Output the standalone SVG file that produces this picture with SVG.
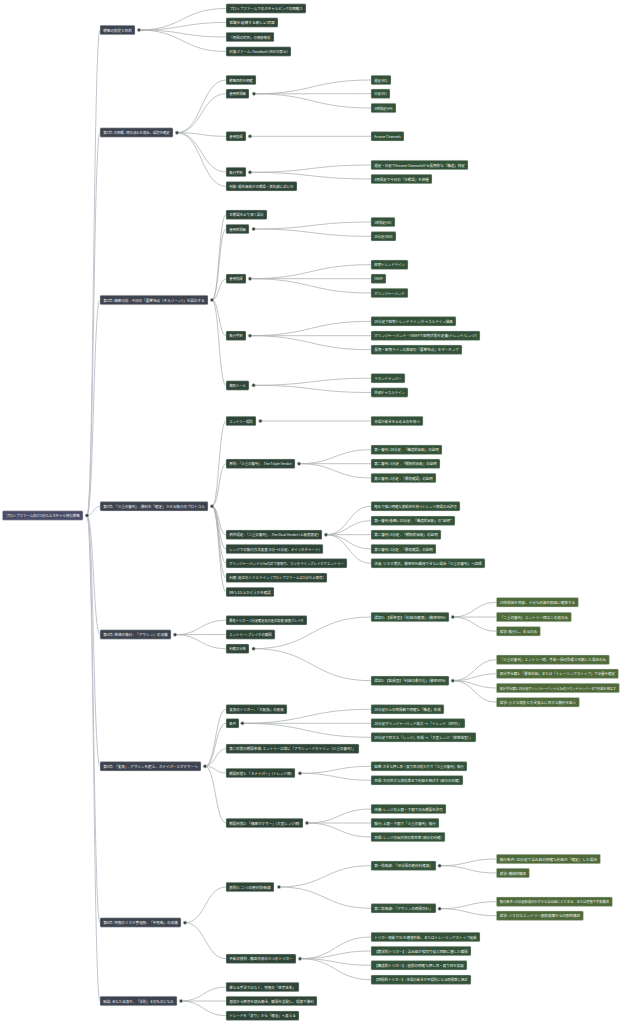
<svg xmlns="http://www.w3.org/2000/svg" width="626" height="1024" viewBox="0 0 626 1024">
<style>
rect{stroke:#d3dad4;stroke-width:0.45;}
.n0{fill:#4a4c68}.n1{fill:#3e4350}.n2{fill:#2e4538}.n3{fill:#335239}.n4{fill:#4f6a3a}
text{font-family:"Noto Sans CJK JP","Noto Sans",sans-serif;font-size:3.5px;fill:#eef2ee;dominant-baseline:central}
.sm{font-size:3.1px}
.c{fill:#3c4441;stroke:#d0d5d2;stroke-width:0.6}
.lk path{fill:none;stroke:#a9b0ad;stroke-width:0.75}
.lr path{fill:none;stroke:#bdbdcc;stroke-width:0.9}
</style>
<rect x="0" y="0" width="626" height="1024" style="fill:#ffffff;stroke:none"/>
<g id="connectors">
<g class="lr">
<path d="M87 515.5C93.5 515.5 93.5 30 100 30"/>
<path d="M87 515.5C93.5 515.5 93.5 132.5 100 132.5"/>
<path d="M87 515.5C93.5 515.5 93.5 300 100 300"/>
<path d="M87 515.5C93.5 515.5 93.5 506.3 100 506.3"/>
<path d="M87 515.5C93.5 515.5 93.5 634.5 100 634.5"/>
<path d="M87 515.5C93.5 515.5 93.5 766.3 100 766.3"/>
<path d="M87 515.5C93.5 515.5 93.5 922.5 100 922.5"/>
<path d="M87 515.5C93.5 515.5 93.5 1001 100 1001"/>
</g>
<g class="lk">
<path d="M139 30C182.5 30 182.5 8.5 226 8.5"/>
<path d="M139 30C182.5 30 182.5 22.5 226 22.5"/>
<path d="M139 30C182.5 30 182.5 37 226 37"/>
<path d="M139 30C182.5 30 182.5 51.5 226 51.5"/>
<path d="M177 132.7C201.5 132.7 201.5 80 226 80"/>
<path d="M177 132.7C201.5 132.7 201.5 93.7 226 93.7"/>
<path d="M177 132.7C201.5 132.7 201.5 136.3 226 136.3"/>
<path d="M177 132.7C201.5 132.7 201.5 172 226 172"/>
<path d="M177 132.7C201.5 132.7 201.5 186.3 226 186.3"/>
<path d="M254 93.8C312.5 93.8 312.5 80 371 80"/>
<path d="M254 93.8C312.5 93.8 312.5 93.7 371 93.7"/>
<path d="M254 93.8C312.5 93.8 312.5 108 371 108"/>
<path d="M250 136.3L371 136.3"/>
<path d="M250 172.3C310.5 172.3 310.5 165 371 165"/>
<path d="M250 172.3C310.5 172.3 310.5 179 371 179"/>
<path d="M212 300C219 300 219 214.7 226 214.7"/>
<path d="M212 300C219 300 219 229 226 229"/>
<path d="M212 300C219 300 219 279 226 279"/>
<path d="M212 300C219 300 219 335.7 226 335.7"/>
<path d="M212 300C219 300 219 385.5 226 385.5"/>
<path d="M253.6 229C312.3 229 312.3 222 371 222"/>
<path d="M253.6 229C312.3 229 312.3 236.3 371 236.3"/>
<path d="M250 278.7C310.5 278.7 310.5 264.7 371 264.7"/>
<path d="M250 278.7L371 278.7"/>
<path d="M250 278.7C310.5 278.7 310.5 293 371 293"/>
<path d="M250 335.7C310.5 335.7 310.5 321.3 371 321.3"/>
<path d="M250 335.7L371 335.7"/>
<path d="M250 335.7C310.5 335.7 310.5 349.7 371 349.7"/>
<path d="M253.6 385.3C312.3 385.3 312.3 378.2 371 378.2"/>
<path d="M253.6 385.3C312.3 385.3 312.3 392.5 371 392.5"/>
<path d="M212 506.3C219 506.3 219 421 226 421"/>
<path d="M212 506.3C219 506.3 219 463.7 226 463.7"/>
<path d="M212 506.3C219 506.3 219 534.7 226 534.7"/>
<path d="M212 506.3C219 506.3 219 549 226 549"/>
<path d="M212 506.3C219 506.3 219 563.3 226 563.3"/>
<path d="M212 506.3C219 506.3 219 577.7 226 577.7"/>
<path d="M212 506.3C219 506.3 219 592 226 592"/>
<path d="M260.4 421L371 421"/>
<path d="M299 463.7C335 463.7 335 449.7 371 449.7"/>
<path d="M299 463.7L371 463.7"/>
<path d="M299 463.7C335 463.7 335 478 371 478"/>
<path d="M326 534.7C348.5 534.7 348.5 506.3 371 506.3"/>
<path d="M326 534.7C348.5 534.7 348.5 520.7 371 520.7"/>
<path d="M326 534.7L371 534.7"/>
<path d="M326 534.7C348.5 534.7 348.5 549 371 549"/>
<path d="M326 534.7C348.5 534.7 348.5 563.3 371 563.3"/>
<path d="M175 634.7C200.5 634.7 200.5 620.3 226 620.3"/>
<path d="M175 634.7L226 634.5"/>
<path d="M175 634.7C200.5 634.7 200.5 648.7 226 648.7"/>
<path d="M253.6 648.7C312.3 648.7 312.3 617 371 617"/>
<path d="M253.6 648.7C312.3 648.7 312.3 680.7 371 680.7"/>
<path d="M452.8 617C474.6 617 474.6 602.3 496.4 602.3"/>
<path d="M452.8 617L496.4 617"/>
<path d="M452.8 617C474.6 617 474.6 631.3 496.4 631.3"/>
<path d="M452.8 680.7C474.6 680.7 474.6 659.7 496.4 659.7"/>
<path d="M452.8 680.7C474.6 680.7 474.6 673.7 496.4 673.7"/>
<path d="M452.8 680.7C474.6 680.7 474.6 688 496.4 688"/>
<path d="M452.8 680.7C474.6 680.7 474.6 702.3 496.4 702.3"/>
<path d="M205 766.3C215.5 766.3 215.5 709.3 226 709.3"/>
<path d="M205 766.3C215.5 766.3 215.5 723.3 226 723.3"/>
<path d="M205 766.3C215.5 766.3 215.5 748.7 226 748.7"/>
<path d="M205 766.3C215.5 766.3 215.5 773 226 773"/>
<path d="M205 766.3C215.5 766.3 215.5 823 226 823"/>
<path d="M242.4 723.3C306.7 723.3 306.7 709.3 371 709.3"/>
<path d="M242.4 723.3L371 723.3"/>
<path d="M242.4 723.3C306.7 723.3 306.7 737.3 371 737.3"/>
<path d="M300 773.3C335.5 773.3 335.5 766.3 371 766.3"/>
<path d="M300 773.3C335.5 773.3 335.5 780.3 371 780.3"/>
<path d="M307 823C339 823 339 809 371 809"/>
<path d="M307 823L371 823"/>
<path d="M307 823C339 823 339 837 371 837"/>
<path d="M185 922.7C205.5 922.7 205.5 887 226 887"/>
<path d="M185 922.7C205.5 922.7 205.5 958.7 226 958.7"/>
<path d="M279 887C325 887 325 865.7 371 865.7"/>
<path d="M279 887C325 887 325 908.3 371 908.3"/>
<path d="M439.6 865.7C468 865.7 468 859 496.4 859"/>
<path d="M439.6 865.7C468 865.7 468 873 496.4 873"/>
<path d="M439.6 908.7C468 908.7 468 901.7 496.4 901.7"/>
<path d="M439.6 908.7C468 908.7 468 915.7 496.4 915.7"/>
<path d="M300 958.7C335.5 958.7 335.5 937 371 937"/>
<path d="M300 958.7C335.5 958.7 335.5 951 371 951"/>
<path d="M300 958.7C335.5 958.7 335.5 965.3 371 965.3"/>
<path d="M300 958.7C335.5 958.7 335.5 979.7 371 979.7"/>
<path d="M181 1001C203.5 1001 203.5 987 226 987"/>
<path d="M181 1001L226 1001"/>
<path d="M181 1001C203.5 1001 203.5 1015.7 226 1015.7"/>
</g>
</g>

<g id="root"><rect class="n0" x="2.4" y="510.8" width="80.6" height="9.4" rx="1.2"/><text x="5.7" y="515.5" textLength="74" lengthAdjust="spacingAndGlyphs">プロップファーム向け1分以上スキャル特化戦略</text><circle class="c" cx="87" cy="515.5" r="1.8"/></g>

<g id="s0"><rect class="n1" x="100" y="25.3" width="35" height="9.4" rx="1.2"/><text x="103.3" y="30" textLength="28.4" lengthAdjust="spacingAndGlyphs">戦略の前提と目的</text><circle class="c" cx="139" cy="30" r="1.8"/></g>
<g id="s0a"><rect class="n2" x="226" y="3.8" width="80" height="9.4" rx="1.2"/><text x="229.3" y="8.5" textLength="73.4" lengthAdjust="spacingAndGlyphs">プロップファームでのスキャルピングの困難さ</text></g>
<g id="s0b"><rect class="n2" x="226" y="17.8" width="52" height="9.4" rx="1.2"/><text x="229.3" y="22.5" textLength="45.4" lengthAdjust="spacingAndGlyphs">常識を破壊する新しい武器</text></g>
<g id="s0c"><rect class="n2" x="226" y="32.3" width="48" height="9.4" rx="1.2"/><text x="229.3" y="37" textLength="41.4" lengthAdjust="spacingAndGlyphs">「時間の境目」の徹底解析</text></g>
<g id="s0d"><rect class="n2" x="226" y="46.8" width="65" height="9.4" rx="1.2"/><text x="229.3" y="51.5" textLength="58.4" lengthAdjust="spacingAndGlyphs">対象ファーム: Fandbolt (MACD禁止)</text></g>

<g id="s1"><rect class="n1" x="100" y="127.8" width="73" height="9.4" rx="1.2"/><text x="103.3" y="132.5" textLength="66.4" lengthAdjust="spacingAndGlyphs">第1章: 大局観 - 時の流れを読み、環境を確定</text><circle class="c" cx="177" cy="132.7" r="1.8"/></g>
<g id="s1a"><rect class="n2" x="226" y="75.3" width="30" height="9.4" rx="1.2"/><text x="229.3" y="80" textLength="23.4" lengthAdjust="spacingAndGlyphs">戦略目的を明確</text></g>
<g id="s1b"><rect class="n2" x="226" y="89" width="23" height="9.4" rx="1.2"/><text x="229.3" y="93.7" textLength="16.4" lengthAdjust="spacingAndGlyphs">使用時間軸</text><circle class="c" cx="254" cy="93.8" r="1.8"/></g>
<g id="s1b1"><rect class="n3" x="371" y="75.3" width="20" height="9.4" rx="1.2"/><text x="374.3" y="80" textLength="13.4" lengthAdjust="spacingAndGlyphs">週足(W1)</text></g>
<g id="s1b2"><rect class="n3" x="371" y="89" width="19" height="9.4" rx="1.2"/><text x="374.3" y="93.7" textLength="12.4" lengthAdjust="spacingAndGlyphs">日足(D1)</text></g>
<g id="s1b3"><rect class="n3" x="371" y="103.3" width="25" height="9.4" rx="1.2"/><text x="374.3" y="108" textLength="18.4" lengthAdjust="spacingAndGlyphs">4時間足(H4)</text></g>
<g id="s1c"><rect class="n2" x="226" y="131.6" width="20" height="9.4" rx="1.2"/><text x="229.3" y="136.3" textLength="13.4" lengthAdjust="spacingAndGlyphs">使用指標</text><circle class="c" cx="250" cy="136.3" r="1.8"/></g>
<g id="s1c1"><rect class="n3" x="371" y="131.6" width="33" height="9.4" rx="1.2"/><text x="374.3" y="136.3" textLength="26.4" lengthAdjust="spacingAndGlyphs">Arcane Channels</text></g>
<g id="s1d"><rect class="n2" x="226" y="167.3" width="20" height="9.4" rx="1.2"/><text x="229.3" y="172" textLength="13.4" lengthAdjust="spacingAndGlyphs">執行手順</text><circle class="c" cx="250" cy="172.3" r="1.8"/></g>
<g id="s1d1"><rect class="n3" x="371" y="160.3" width="97" height="9.4" rx="1.2"/><text x="374.3" y="165" textLength="90.4" lengthAdjust="spacingAndGlyphs">週足・日足でArcane Channelsから長期的な「構造」特定</text></g>
<g id="s1d2"><rect class="n3" x="371" y="174.3" width="61" height="9.4" rx="1.2"/><text x="374.3" y="179" textLength="54.4" lengthAdjust="spacingAndGlyphs">4時間足で今日の「主戦場」を把握</text></g>
<g id="s1e"><rect class="n2" x="226" y="181.6" width="71" height="9.4" rx="1.2"/><text x="229.3" y="186.3" textLength="64.4" lengthAdjust="spacingAndGlyphs">判断: 現在価格が主戦場・抵抗線に近いか</text></g>

<g id="s2"><rect class="n1" x="100" y="295.3" width="108" height="9.4" rx="1.2"/><text x="103.3" y="300" textLength="101.4" lengthAdjust="spacingAndGlyphs">第2章: 精密分析 - 今日の「要撃地点（キルゾーン）」を設計する</text><circle class="c" cx="212" cy="300" r="1.8"/></g>
<g id="s2a"><rect class="n2" x="226" y="210" width="41" height="9.4" rx="1.2"/><text x="229.3" y="214.7" textLength="34.4" lengthAdjust="spacingAndGlyphs">主戦場をより深く設計</text></g>
<g id="s2b"><rect class="n2" x="226" y="224.3" width="23" height="9.4" rx="1.2"/><text x="229.3" y="229" textLength="16.4" lengthAdjust="spacingAndGlyphs">使用時間軸</text><circle class="c" cx="253.6" cy="229" r="1.8"/></g>
<g id="s2b1"><rect class="n3" x="371" y="217.3" width="24" height="9.4" rx="1.2"/><text x="374.3" y="222" textLength="17.4" lengthAdjust="spacingAndGlyphs">1時間足(H1)</text></g>
<g id="s2b2"><rect class="n3" x="371" y="231.6" width="25" height="9.4" rx="1.2"/><text x="374.3" y="236.3" textLength="18.4" lengthAdjust="spacingAndGlyphs">20分足(M20)</text></g>
<g id="s2c"><rect class="n2" x="226" y="274" width="20" height="9.4" rx="1.2"/><text x="229.3" y="278.7" textLength="13.4" lengthAdjust="spacingAndGlyphs">使用指標</text><circle class="c" cx="250" cy="278.7" r="1.8"/></g>
<g id="s2c1"><rect class="n3" x="371" y="260" width="37" height="9.4" rx="1.2"/><text x="374.3" y="264.7" textLength="30.4" lengthAdjust="spacingAndGlyphs">短期トレンドライン</text></g>
<g id="s2c2"><rect class="n3" x="371" y="274" width="15" height="9.4" rx="1.2"/><text x="374.3" y="278.7" textLength="8.4" lengthAdjust="spacingAndGlyphs">VWAP</text></g>
<g id="s2c3"><rect class="n3" x="371" y="288.3" width="37" height="9.4" rx="1.2"/><text x="374.3" y="293" textLength="30.4" lengthAdjust="spacingAndGlyphs">ボリンジャーバンド</text></g>
<g id="s2d"><rect class="n2" x="226" y="331" width="20" height="9.4" rx="1.2"/><text x="229.3" y="335.7" textLength="13.4" lengthAdjust="spacingAndGlyphs">執行手順</text><circle class="c" cx="250" cy="335.7" r="1.8"/></g>
<g id="s2d1"><rect class="n3" x="371" y="316.6" width="85" height="9.4" rx="1.2"/><text x="374.3" y="321.3" textLength="78.4" lengthAdjust="spacingAndGlyphs">20分足で短期トレンドライン/チャネルライン描画</text></g>
<g id="s2d2"><rect class="n3" x="371" y="331" width="109" height="9.4" rx="1.2"/><text x="374.3" y="335.7" textLength="102.4" lengthAdjust="spacingAndGlyphs">ボリンジャーバンド・VWAPで短期状態を定義(トレンド/レンジ)</text></g>
<g id="s2d3"><rect class="n3" x="371" y="345" width="91" height="9.4" rx="1.2"/><text x="374.3" y="349.7" textLength="84.4" lengthAdjust="spacingAndGlyphs">長期・短期ライン交差部の「要撃地点」をマーキング</text></g>
<g id="s2e"><rect class="n2" x="226" y="380.8" width="23" height="9.4" rx="1.2"/><text x="229.3" y="385.5" textLength="16.4" lengthAdjust="spacingAndGlyphs">補助ツール</text><circle class="c" cx="253.6" cy="385.3" r="1.8"/></g>
<g id="s2e1"><rect class="n3" x="371" y="373.5" width="34" height="9.4" rx="1.2"/><text x="374.3" y="378.2" textLength="27.4" lengthAdjust="spacingAndGlyphs">ラウンドナンバー</text></g>
<g id="s2e2"><rect class="n3" x="371" y="387.8" width="37" height="9.4" rx="1.2"/><text x="374.3" y="392.5" textLength="30.4" lengthAdjust="spacingAndGlyphs">外部チャネルライン</text></g>

<g id="s3"><rect class="n1" x="100" y="501.6" width="108" height="9.4" rx="1.2"/><text x="103.3" y="506.3" textLength="101.4" lengthAdjust="spacingAndGlyphs">第3章: 「三重の審判」- 勝利を「確定」させる執行のプロトコル</text><circle class="c" cx="212" cy="506.3" r="1.8"/></g>
<g id="s3a"><rect class="n2" x="226" y="416.3" width="30" height="9.4" rx="1.2"/><text x="229.3" y="421" textLength="23.4" lengthAdjust="spacingAndGlyphs">エントリー規則</text><circle class="c" cx="260.4" cy="421" r="1.8"/></g>
<g id="s3a1"><rect class="n3" x="371" y="416.3" width="52" height="9.4" rx="1.2"/><text x="374.3" y="421" textLength="45.4" lengthAdjust="spacingAndGlyphs">市場が動きを止めるのを待つ</text></g>
<g id="s3b"><rect class="n2" x="226" y="459" width="69" height="9.4" rx="1.2"/><text x="229.3" y="463.7" textLength="62.4" lengthAdjust="spacingAndGlyphs">原則: 「三重の審判」- The Triple Verdict</text><circle class="c" cx="299" cy="463.7" r="1.8"/></g>
<g id="s3b1"><rect class="n3" x="371" y="445" width="71" height="9.4" rx="1.2"/><text x="374.3" y="449.7" textLength="64.4" lengthAdjust="spacingAndGlyphs">第一審判: 20分足 - 「構造的反転」の証明</text></g>
<g id="s3b2"><rect class="n3" x="371" y="459" width="69" height="9.4" rx="1.2"/><text x="374.3" y="463.7" textLength="62.4" lengthAdjust="spacingAndGlyphs">第二審判: 5分足 - 「戦術的反転」の証明</text></g>
<g id="s3b3"><rect class="n3" x="371" y="473.3" width="65" height="9.4" rx="1.2"/><text x="374.3" y="478" textLength="58.4" lengthAdjust="spacingAndGlyphs">第三審判: 1分足 - 「最終確認」の証明</text></g>
<g id="s3c"><rect class="n2" x="226" y="530" width="96" height="9.4" rx="1.2"/><text x="229.3" y="534.7" textLength="89.4" lengthAdjust="spacingAndGlyphs">例外規定: 「二重の審判」- The Dual Verdict (上級者限定)</text><circle class="c" cx="326" cy="534.7" r="1.8"/></g>
<g id="s3c1"><rect class="n3" x="371" y="501.6" width="89" height="9.4" rx="1.2"/><text x="374.3" y="506.3" textLength="82.4" lengthAdjust="spacingAndGlyphs">極めて強い明確な波動性を持つトレンド相場のみ許可</text></g>
<g id="s3c2"><rect class="n3" x="371" y="516" width="84" height="9.4" rx="1.2"/><text x="374.3" y="520.7" textLength="77.4" lengthAdjust="spacingAndGlyphs">第一審判(省略): 20分足 - 「構造的反転」の"証明"</text></g>
<g id="s3c3"><rect class="n3" x="371" y="530" width="70" height="9.4" rx="1.2"/><text x="374.3" y="534.7" textLength="63.4" lengthAdjust="spacingAndGlyphs">第二審判: 5分足 - 「戦術的反転」の証明</text></g>
<g id="s3c4"><rect class="n3" x="371" y="544.3" width="65" height="9.4" rx="1.2"/><text x="374.3" y="549" textLength="58.4" lengthAdjust="spacingAndGlyphs">第三審判: 1分足 - 「最終確認」の証明</text></g>
<g id="s3c5"><rect class="n3" x="371" y="558.6" width="114" height="9.4" rx="1.2"/><text x="374.3" y="563.3" textLength="107.4" lengthAdjust="spacingAndGlyphs">注意: リスク増大。勝率90%維持できない場合「三重の審判」へ回帰</text></g>
<g id="s3d"><rect class="n2" x="226" y="544.3" width="97" height="9.4" rx="1.2"/><text x="229.3" y="549" textLength="90.4" lengthAdjust="spacingAndGlyphs">レンジでの執行方法変更 (5分→1分足、ティックチャート)</text></g>
<g id="s3e"><rect class="n2" x="226" y="558.6" width="121" height="9.4" rx="1.2"/><text x="229.3" y="563.3" textLength="114.4" lengthAdjust="spacingAndGlyphs">ボリンジャーバンド±3σ付近で底取り、ネックラインブレイクでエントリー</text></g>
<g id="s3f"><rect class="n2" x="226" y="573" width="101" height="9.4" rx="1.2"/><text x="229.3" y="577.7" textLength="94.4" lengthAdjust="spacingAndGlyphs">利確: 直近のミドルライン (プロップファームは1分以上保有)</text></g>
<g id="s3g"><rect class="n2" x="226" y="587.3" width="48" height="9.4" rx="1.2"/><text x="229.3" y="592" textLength="41.4" lengthAdjust="spacingAndGlyphs">RR 1:1以上かどうかを確認</text></g>

<g id="s4"><rect class="n1" x="100" y="629.8" width="71" height="9.4" rx="1.2"/><text x="103.3" y="634.5" textLength="64.4" lengthAdjust="spacingAndGlyphs">第4章: 神速の執行 - 「アサシン」の流儀</text><circle class="c" cx="175" cy="634.7" r="1.8"/></g>
<g id="s4a"><rect class="n2" x="226" y="615.6" width="81" height="9.4" rx="1.2"/><text x="229.3" y="620.3" textLength="74.4" lengthAdjust="spacingAndGlyphs">最終トリガー: 1分足確定足の直近高値/安値ブレイク</text></g>
<g id="s4b"><rect class="n2" x="226" y="629.8" width="49" height="9.4" rx="1.2"/><text x="229.3" y="634.5" textLength="42.4" lengthAdjust="spacingAndGlyphs">エントリー: ブレイクの瞬間</text></g>
<g id="s4c"><rect class="n2" x="226" y="644" width="23" height="9.4" rx="1.2"/><text x="229.3" y="648.7" textLength="16.4" lengthAdjust="spacingAndGlyphs">利確の分岐</text><circle class="c" cx="253.6" cy="648.7" r="1.8"/></g>
<g id="s4c1"><rect class="n3" x="371" y="612.3" width="78" height="9.4" rx="1.2"/><text x="374.3" y="617" textLength="71.4" lengthAdjust="spacingAndGlyphs">選択1: 【標準型】「利益の確保」(勝率90%)</text><circle class="c" cx="452.8" cy="617" r="1.8"/></g>
<g id="s4c1a"><rect class="n4" x="496.4" y="597.6" width="82" height="9.4" rx="1.2"/><text x="499.7" y="602.3" textLength="75.4" lengthAdjust="spacingAndGlyphs">20秒前後を目安、十分な利益を即座に確保する</text></g>
<g id="s4c1b"><rect class="n4" x="496.4" y="612.3" width="75" height="9.4" rx="1.2"/><text x="499.7" y="617" textLength="68.4" lengthAdjust="spacingAndGlyphs">「二重の審判」エントリー時はこの道のみ</text></g>
<g id="s4c1c"><rect class="n4" x="496.4" y="626.6" width="44" height="9.4" rx="1.2"/><text x="499.7" y="631.3" textLength="37.4" lengthAdjust="spacingAndGlyphs">哲学: 執行し、去るのみ</text></g>
<g id="s4c2"><rect class="n3" x="371" y="676" width="78" height="9.4" rx="1.2"/><text x="374.3" y="680.7" textLength="71.4" lengthAdjust="spacingAndGlyphs">選択2: 【拡張型】「利益の最大化」(勝率80%)</text><circle class="c" cx="452.8" cy="680.7" r="1.8"/></g>
<g id="s4c2a"><rect class="n4" x="496.4" y="655" width="113" height="9.4" rx="1.2"/><text x="499.7" y="659.7" textLength="106.4" lengthAdjust="spacingAndGlyphs">「三重の審判」エントリー時、手動一括の影響と判断した場合のみ</text></g>
<g id="s4c2b"><rect class="n4" x="496.4" y="669" width="122" height="9.4" rx="1.2"/><text x="499.7" y="673.7" textLength="115.4" lengthAdjust="spacingAndGlyphs">部分手仕舞1: 「最低利益」または「トレーリングストップ」で半量を確定</text></g>
<g id="s4c2c"><rect class="n4" x="496.4" y="683.3" width="123" height="9.4" rx="1.2"/><text class="sm" x="499.7" y="688" textLength="116.4" lengthAdjust="spacingAndGlyphs">部分手仕舞2: 20分足ボリンジャーバンド±2σのラウンドナンバーまで利益を伸ばす</text></g>
<g id="s4c2d"><rect class="n4" x="496.4" y="697.6" width="83" height="9.4" rx="1.2"/><text x="499.7" y="702.3" textLength="76.4" lengthAdjust="spacingAndGlyphs">哲学: 小さな損失と引き換えに巨大な勝利を狙う</text></g>

<g id="s5"><rect class="n1" x="100" y="761.6" width="101" height="9.4" rx="1.2"/><text x="103.3" y="766.3" textLength="94.4" lengthAdjust="spacingAndGlyphs">第5章: 「変身」- アサシンを超え、スナイパーとボクサーへ</text><circle class="c" cx="205" cy="766.3" r="1.8"/></g>
<g id="s5a"><rect class="n2" x="226" y="704.6" width="61" height="9.4" rx="1.2"/><text x="229.3" y="709.3" textLength="54.4" lengthAdjust="spacingAndGlyphs">変身のトリガー: 「大転換」の到来</text></g>
<g id="s5b"><rect class="n2" x="226" y="718.6" width="13" height="9.4" rx="1.2"/><text x="229.3" y="723.3" textLength="6.8" lengthAdjust="spacingAndGlyphs">条件</text><circle class="c" cx="242.4" cy="723.3" r="1.8"/></g>
<g id="s5b1"><rect class="n3" x="371" y="704.6" width="73" height="9.4" rx="1.2"/><text x="374.3" y="709.3" textLength="66.4" lengthAdjust="spacingAndGlyphs">20分足以上の時間軸で明確な「構造」形成</text></g>
<g id="s5b2"><rect class="n3" x="371" y="718.6" width="94" height="9.4" rx="1.2"/><text x="374.3" y="723.3" textLength="87.4" lengthAdjust="spacingAndGlyphs">20分足ボリンジャーバンド拡大 → 「トレンド（順列）」</text></g>
<g id="s5b3"><rect class="n3" x="371" y="732.6" width="105" height="9.4" rx="1.2"/><text x="374.3" y="737.3" textLength="98.4" lengthAdjust="spacingAndGlyphs">20分足で巨大な「レンジ」形成 → 「大型レンジ（狭帯域型）」</text></g>
<g id="s5c"><rect class="n2" x="226" y="744" width="133" height="9.4" rx="1.2"/><text x="229.3" y="748.7" textLength="126.4" lengthAdjust="spacingAndGlyphs">第二形態の戦闘準備: エントリーは常に「アサシン・ドクトリン（三重の審判）」</text></g>
<g id="s5d"><rect class="n2" x="226" y="768.3" width="69" height="9.4" rx="1.2"/><text x="229.3" y="773" textLength="62.4" lengthAdjust="spacingAndGlyphs">戦闘形態1: 「スナイパー」(トレンド相)</text><circle class="c" cx="300" cy="773.3" r="1.8"/></g>
<g id="s5d1"><rect class="n3" x="371" y="761.6" width="96" height="9.4" rx="1.2"/><text x="374.3" y="766.3" textLength="89.4" lengthAdjust="spacingAndGlyphs">狙撃: 大きな押し目・戻り目の終わりで「三重の審判」執行</text></g>
<g id="s5d2"><rect class="n3" x="371" y="775.6" width="92" height="9.4" rx="1.2"/><text x="374.3" y="780.3" textLength="85.4" lengthAdjust="spacingAndGlyphs">目標: 次の巨大な抵抗帯まで利益を伸ばす (部分の利確)</text></g>
<g id="s5e"><rect class="n2" x="226" y="818.3" width="77" height="9.4" rx="1.2"/><text x="229.3" y="823" textLength="70.4" lengthAdjust="spacingAndGlyphs">戦闘形態2: 「精密ボクサー」(大型レンジ相)</text><circle class="c" cx="307" cy="823" r="1.8"/></g>
<g id="s5e1"><rect class="n3" x="371" y="804.3" width="75" height="9.4" rx="1.2"/><text x="374.3" y="809" textLength="68.4" lengthAdjust="spacingAndGlyphs">待機: レンジの上限・下限でのみ戦闘を許可</text></g>
<g id="s5e2"><rect class="n3" x="371" y="818.3" width="68" height="9.4" rx="1.2"/><text x="374.3" y="823" textLength="61.4" lengthAdjust="spacingAndGlyphs">執行: 上限・下限で「三重の審判」執行</text></g>
<g id="s5e3"><rect class="n3" x="371" y="832.3" width="74" height="9.4" rx="1.2"/><text x="374.3" y="837" textLength="67.4" lengthAdjust="spacingAndGlyphs">目標: レンジの反対側の節目帯 (部分の利確)</text></g>

<g id="s6"><rect class="n1" x="100" y="917.8" width="81" height="9.4" rx="1.2"/><text x="103.3" y="922.5" textLength="74.4" lengthAdjust="spacingAndGlyphs">第6章: 究極のリスク管理術 - 「不死鳥」の流儀</text><circle class="c" cx="185" cy="922.7" r="1.8"/></g>
<g id="s6a"><rect class="n2" x="226" y="882.3" width="48" height="9.4" rx="1.2"/><text x="229.3" y="887" textLength="41.4" lengthAdjust="spacingAndGlyphs">鉄則1: 二つの絶対防衛線</text><circle class="c" cx="279" cy="887" r="1.8"/></g>
<g id="s6a1"><rect class="n3" x="371" y="861" width="65" height="9.4" rx="1.2"/><text x="374.3" y="865.7" textLength="58.4" lengthAdjust="spacingAndGlyphs">第一防衛線: 「10分間の絶対利確線」</text><circle class="c" cx="439.6" cy="865.7" r="1.8"/></g>
<g id="s6a1a"><rect class="n4" x="496.4" y="854.3" width="104" height="9.4" rx="1.2"/><text x="499.7" y="859" textLength="97.4" lengthAdjust="spacingAndGlyphs">執行条件: 10分足で含み益の明確な利益を「確定」した場合</text></g>
<g id="s6a1b"><rect class="n4" x="496.4" y="868.3" width="33" height="9.4" rx="1.2"/><text x="499.7" y="873" textLength="26.4" lengthAdjust="spacingAndGlyphs">哲学: 機械的撤退</text></g>
<g id="s6a2"><rect class="n3" x="371" y="903.6" width="65" height="9.4" rx="1.2"/><text x="374.3" y="908.3" textLength="58.4" lengthAdjust="spacingAndGlyphs">第二防衛線: 「アサシンの時間切れ」</text><circle class="c" cx="439.6" cy="908.7" r="1.8"/></g>
<g id="s6a2a"><rect class="n4" x="496.4" y="897" width="116" height="9.4" rx="1.2"/><text class="sm" x="499.7" y="901.7" textLength="109.4" lengthAdjust="spacingAndGlyphs">執行条件: 15分足経過のわずかな含み益にとどまる、または建値で手動撤退</text></g>
<g id="s6a2b"><rect class="n4" x="496.4" y="911" width="87" height="9.4" rx="1.2"/><text x="499.7" y="915.7" textLength="80.4" lengthAdjust="spacingAndGlyphs">哲学: ミクロなエントリー根拠崩壊からの即時撤退</text></g>
<g id="s6b"><rect class="n2" x="226" y="954" width="70" height="9.4" rx="1.2"/><text x="229.3" y="958.7" textLength="63.4" lengthAdjust="spacingAndGlyphs">不動の鉄則 - 撤退決済の三つのトリガー</text><circle class="c" cx="300" cy="958.7" r="1.8"/></g>
<g id="s6b1"><rect class="n3" x="371" y="932.3" width="109" height="9.4" rx="1.2"/><text x="374.3" y="937" textLength="102.4" lengthAdjust="spacingAndGlyphs">トリガー発動でSLを建値移動、またはトレーリングストップ起動</text></g>
<g id="s6b2"><rect class="n3" x="371" y="946.3" width="100" height="9.4" rx="1.2"/><text x="374.3" y="951" textLength="93.4" lengthAdjust="spacingAndGlyphs">【数学的トリガー】: 含み益が損切り幅と同額に達した瞬間</text></g>
<g id="s6b3"><rect class="n3" x="371" y="960.6" width="96" height="9.4" rx="1.2"/><text x="374.3" y="965.3" textLength="89.4" lengthAdjust="spacingAndGlyphs">【構造的トリガー】: 直前の明確な押し目・戻り目を突破</text></g>
<g id="s6b4"><rect class="n3" x="371" y="975" width="100" height="9.4" rx="1.2"/><text x="374.3" y="979.7" textLength="93.4" lengthAdjust="spacingAndGlyphs">【時間的トリガー】: 市場の動きが不規則になる時間帯に接近</text></g>

<g id="s7"><rect class="n1" x="100" y="996.3" width="77" height="9.4" rx="1.2"/><text x="103.3" y="1001" textLength="70.4" lengthAdjust="spacingAndGlyphs">結論: あなた自身が、「法則」そのものになれ</text><circle class="c" cx="181" cy="1001" r="1.8"/></g>
<g id="s7a"><rect class="n2" x="226" y="982.3" width="73" height="9.4" rx="1.2"/><text x="229.3" y="987" textLength="66.4" lengthAdjust="spacingAndGlyphs">単なる手法ではなく、究極の「思考体系」</text></g>
<g id="s7b"><rect class="n2" x="226" y="996.3" width="91" height="9.4" rx="1.2"/><text x="229.3" y="1001" textLength="84.4" lengthAdjust="spacingAndGlyphs">混沌から秩序を読み解き、瞬間を支配し、規律で勝利</text></g>
<g id="s7c"><rect class="n2" x="226" y="1011" width="73" height="9.4" rx="1.2"/><text x="229.3" y="1015.7" textLength="66.4" lengthAdjust="spacingAndGlyphs">トレードを「祈り」から「確信」へ変える</text></g>
</svg>
